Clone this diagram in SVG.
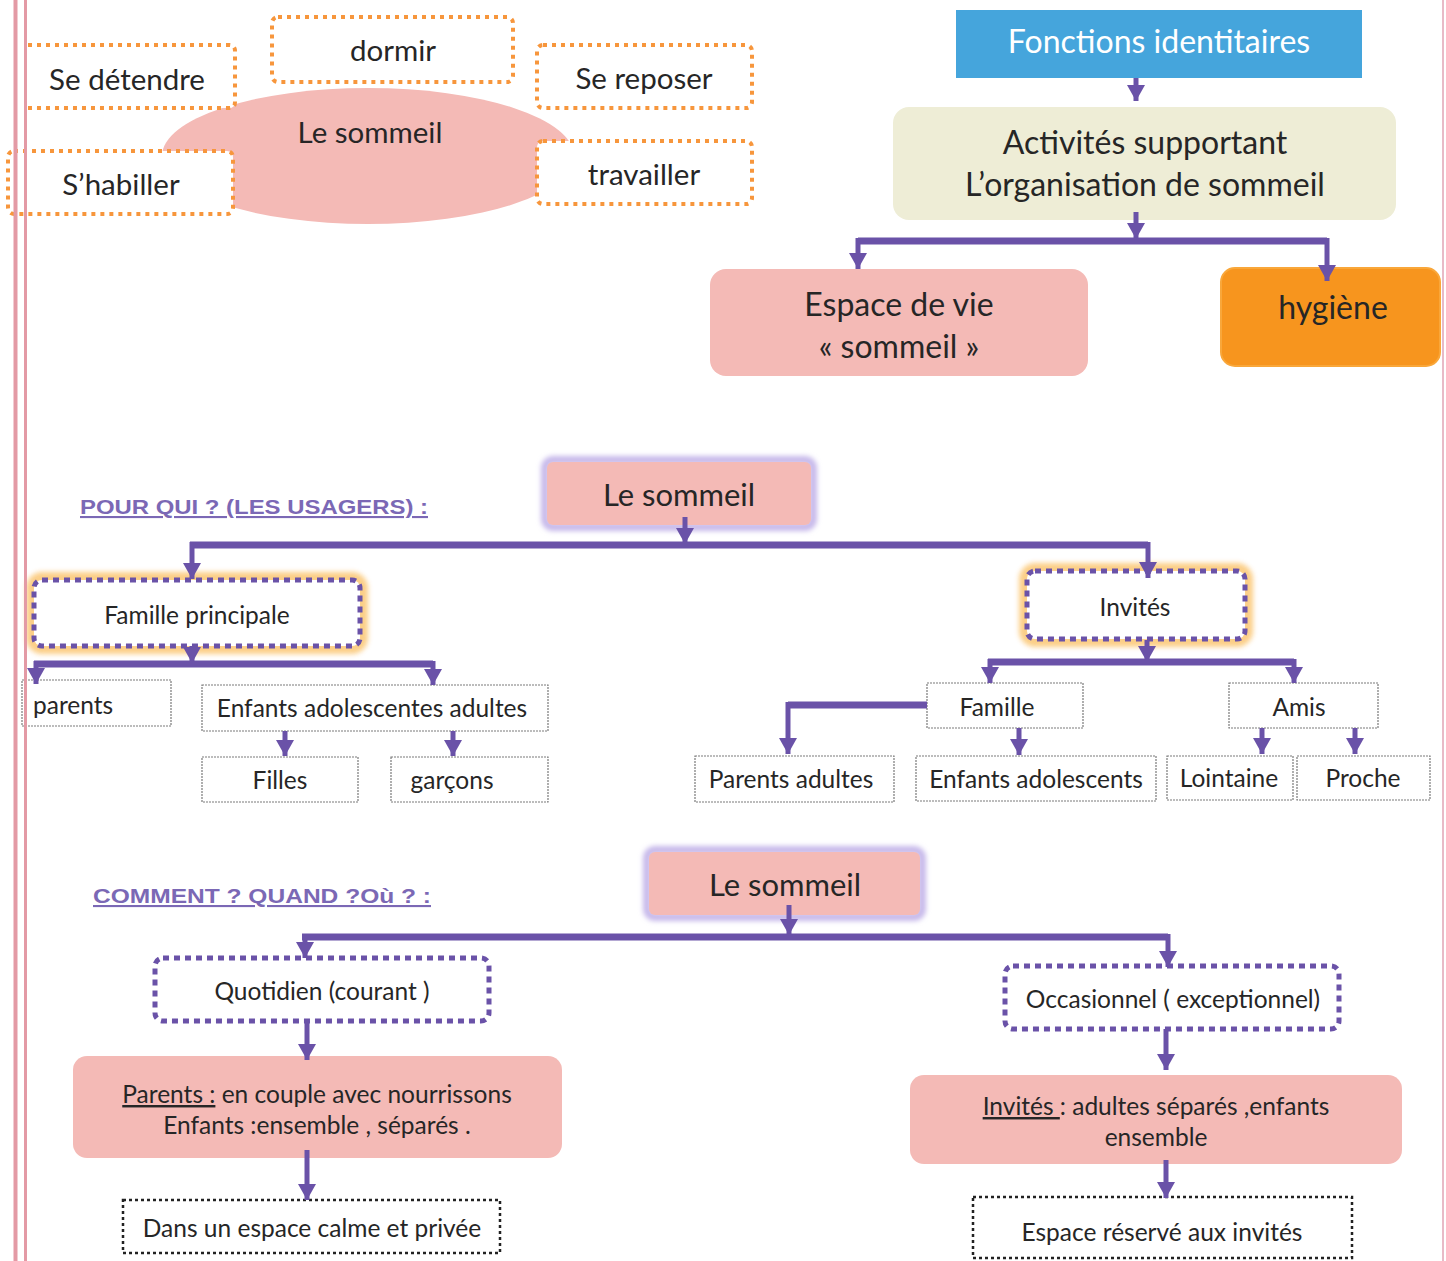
<svg xmlns="http://www.w3.org/2000/svg" width="1446" height="1261" viewBox="0 0 1446 1261">
<style>
  text { font-family: Lato, "Open Sans", "Liberation Sans", sans-serif; fill: #262626; text-anchor: middle; }
  .t27 { font-size: 29.5px; }
  .t30 { font-size: 32px; }
  .t22 { font-size: 24.5px; }
  .title { font-family: "Liberation Sans", Arial, sans-serif; font-weight: bold; font-size: 21px; fill: #7b68b5; text-anchor: start; text-decoration: underline; }
  .orange { fill: #ffffff; stroke: #f7963c; stroke-width: 4; stroke-dasharray: 4 5; }
  .purpdot { fill: #ffffff; stroke: #6a52a8; stroke-width: 5; stroke-dasharray: 6 5; }
  .glow { fill: none; stroke: #fbc97a; stroke-width: 12; opacity: 0.9; filter: url(#soft); }
  .grey { fill: #ffffff; stroke: #7a7a7a; stroke-width: 1.2; stroke-dasharray: 2 1; }
  .black { fill: #ffffff; stroke: #222; stroke-width: 2.5; stroke-dasharray: 3 3; }
  .pink { fill: #f4bab6; }
  .lav { fill: none; stroke: #c6b8ea; stroke-width: 8; filter: url(#soft); }
  .bar { fill: none; stroke: #6a52a8; stroke-width: 7; }
  .arr { fill: none; stroke: #6a52a8; stroke-width: 5; marker-end: url(#ah); }
</style>
<defs>
  <marker id="ah" viewBox="0 0 16 18" refX="16" refY="9" markerWidth="16" markerHeight="18" markerUnits="userSpaceOnUse" orient="auto">
    <path d="M0,0 L16,9 L0,18 z" fill="#6a52a8"/>
  </marker>
  <filter id="soft" x="-10%" y="-20%" width="120%" height="140%">
    <feGaussianBlur stdDeviation="2.5"/>
  </filter>
</defs>
<rect width="1446" height="1261" fill="#ffffff"/>

<!-- top-left mind map -->
<g id="ellipse-sommeil">
  <ellipse cx="368" cy="156" rx="206" ry="68" fill="#f4bab6"/>
  <text class="t27" x="370" y="143">Le sommeil</text>
</g>
<g id="se-detendre">
  <path class="orange" d="M28,45 H229 Q235,45 235,51 V102 Q235,108 229,108 H28"/>
  <text class="t27" x="127" y="90">Se détendre</text>
</g>
<g id="dormir">
  <rect class="orange" x="272" y="17" width="241" height="65" rx="6"/>
  <text class="t27" x="393" y="61">dormir</text>
</g>
<g id="se-reposer">
  <rect class="orange" x="537" y="45" width="215" height="63" rx="6"/>
  <text class="t27" x="644" y="89">Se reposer</text>
</g>
<g id="shabiller">
  <rect class="orange" x="8" y="151" width="225" height="63" rx="6"/>
  <text class="t27" x="121" y="195">S’habiller</text>
</g>
<g id="travailler">
  <rect class="orange" x="537" y="141" width="215" height="63" rx="6"/>
  <text class="t27" x="644" y="185">travailler</text>
</g>

<!-- top-right -->
<g id="fonctions">
  <rect x="956" y="10" width="406" height="68" fill="#45a5dc"/>
  <text x="1159" y="53" style="font-size:32px;fill:#ffffff">Fonctions identitaires</text>
</g>
<g id="activites">
  <rect x="893" y="107" width="503" height="113" rx="16" fill="#eeedd6"/>
  <text class="t30" x="1145" y="154">Activités supportant</text>
  <text class="t30" x="1145" y="196">L’organisation de sommeil</text>
</g>
<g id="espace-vie">
  <rect x="710" y="269" width="378" height="107" rx="16" fill="#f4bab6"/>
  <text class="t30" x="899" y="316">Espace de vie</text>
  <text class="t30" x="899" y="358">« sommeil »</text>
</g>
<g id="hygiene">
  <rect x="1221" y="268" width="219" height="98" rx="14" fill="#f7951e" stroke="#f9a73a" stroke-width="2"/>
  <text class="t30" x="1333" y="319">hygiène</text>
</g>

<!-- middle -->
<g id="title-pour-qui">
  <text class="title" x="80" y="514" textLength="348" lengthAdjust="spacingAndGlyphs">POUR QUI ? (LES USAGERS) :</text>
</g>
<g id="sommeil-2">
  <rect class="lav" x="545" y="460" width="268" height="67" rx="8"/>
  <rect class="pink" x="547" y="462" width="264" height="63" rx="6"/>
  <text x="679" y="506" style="font-size:31px">Le sommeil</text>
</g>
<g id="famille-principale">
  <rect class="glow" x="32" y="578" width="330" height="70" rx="10"/>
  <rect class="purpdot" x="34" y="580" width="326" height="66" rx="8"/>
  <text class="t22" x="197" y="624">Famille principale</text>
</g>
<g id="parents">
  <rect class="grey" x="22" y="680" width="149" height="46"/>
  <text class="t22" x="33" y="714" style="text-anchor:start">parents</text>
</g>
<g id="enfants-ado-adultes">
  <rect class="grey" x="202" y="685" width="346" height="46"/>
  <text class="t22" x="372" y="717">Enfants adolescentes adultes</text>
</g>
<g id="filles">
  <rect class="grey" x="202" y="757" width="156" height="45"/>
  <text class="t22" x="280" y="789">Filles</text>
</g>
<g id="garcons">
  <rect class="grey" x="391" y="757" width="157" height="45"/>
  <text class="t22" x="452" y="789">garçons</text>
</g>
<g id="invites">
  <rect class="glow" x="1025" y="569" width="222" height="72" rx="10"/>
  <rect class="purpdot" x="1027" y="571" width="218" height="68" rx="8"/>
  <text class="t22" x="1135" y="616">Invités</text>
</g>
<g id="famille">
  <rect class="grey" x="927" y="683" width="156" height="45"/>
  <text class="t22" x="997" y="716">Famille</text>
</g>
<g id="amis">
  <rect class="grey" x="1229" y="683" width="149" height="45"/>
  <text class="t22" x="1299" y="716">Amis</text>
</g>
<g id="parents-adultes">
  <rect class="grey" x="695" y="756" width="199" height="46"/>
  <text class="t22" x="791" y="788">Parents adultes</text>
</g>
<g id="enfants-adolescents">
  <rect class="grey" x="916" y="756" width="240" height="45"/>
  <text class="t22" x="1036" y="788">Enfants adolescents</text>
</g>
<g id="lointaine">
  <rect class="grey" x="1167" y="756" width="126" height="44"/>
  <text class="t22" x="1229" y="787">Lointaine</text>
</g>
<g id="proche">
  <rect class="grey" x="1297" y="756" width="133" height="44"/>
  <text class="t22" x="1363" y="787">Proche</text>
</g>

<!-- bottom -->
<g id="title-comment">
  <text class="title" x="93" y="903" textLength="338" lengthAdjust="spacingAndGlyphs">COMMENT ? QUAND  ?Où ? :</text>
</g>
<g id="sommeil-3">
  <rect class="lav" x="647" y="850" width="275" height="67" rx="8"/>
  <rect class="pink" x="649" y="852" width="271" height="63" rx="6"/>
  <text x="785" y="896" style="font-size:31px">Le sommeil</text>
</g>
<g id="quotidien">
  <rect class="purpdot" x="155" y="958" width="334" height="63" rx="8"/>
  <text class="t22" x="322" y="1000">Quotidien (courant )</text>
</g>
<g id="parents-couple">
  <rect class="pink" x="73" y="1056" width="489" height="102" rx="14"/>
  <text class="t22" x="317" y="1103"><tspan style="text-decoration:underline">Parents :</tspan> en couple avec nourrissons</text>
  <text class="t22" x="317" y="1134">Enfants :ensemble , séparés .</text>
</g>
<g id="espace-calme">
  <rect class="black" x="123" y="1200" width="377" height="53"/>
  <text class="t22" x="312" y="1237">Dans un espace calme et privée</text>
</g>
<g id="occasionnel">
  <rect class="purpdot" x="1005" y="966" width="334" height="63" rx="8"/>
  <text class="t22" x="1173" y="1008">Occasionnel ( exceptionnel)</text>
</g>
<g id="invites-adultes">
  <rect class="pink" x="910" y="1075" width="492" height="89" rx="14"/>
  <text class="t22" x="1156" y="1115"><tspan style="text-decoration:underline">Invités </tspan>: adultes séparés ,enfants</text>
  <text class="t22" x="1156" y="1146">ensemble</text>
</g>
<g id="espace-reserve">
  <rect class="black" x="973" y="1197" width="379" height="61"/>
  <text class="t22" x="1162" y="1241">Espace réservé aux invités</text>
</g>

<!-- connectors -->
<g id="connectors">
  <path class="arr" d="M1136,78 V101"/>
  <path class="arr" d="M1136,212 V239"/>
  <path class="bar" d="M858,241 H1327"/>
  <path class="arr" d="M858,238 V269"/>
  <path class="arr" d="M1327,238 V281"/>

  <path class="arr" d="M685,517 V544"/>
  <path class="bar" d="M190,545 H1148"/>
  <path class="arr" d="M192,542 V579"/>
  <path class="arr" d="M1148,542 V578"/>

  <path class="arr" d="M192,646 V663"/>
  <path class="bar" d="M34,664 H433"/>
  <path class="arr" d="M36,661 V684"/>
  <path class="arr" d="M433,661 V685"/>
  <path class="arr" d="M285,731 V756"/>
  <path class="arr" d="M453,731 V756"/>

  <path class="arr" d="M1147,640 V662"/>
  <path class="bar" d="M988,662 H1294"/>
  <path class="arr" d="M990,659 V683"/>
  <path class="arr" d="M1294,659 V683"/>
  <path class="bar" d="M927,705 H788"/>
  <path class="arr" d="M788,702 V754"/>
  <path class="arr" d="M1019,728 V755"/>
  <path class="arr" d="M1262,728 V754"/>
  <path class="arr" d="M1355,728 V754"/>

  <path class="arr" d="M789,905 V935"/>
  <path class="bar" d="M302,937 H1168"/>
  <path class="arr" d="M305,934 V958"/>
  <path class="arr" d="M1168,934 V967"/>
  <path class="arr" d="M307,1021 V1060"/>
  <path class="arr" d="M307,1150 V1200"/>
  <path class="arr" d="M1166,1029 V1070"/>
  <path class="arr" d="M1166,1160 V1198"/>
</g>

<!-- page borders -->
<g id="borders">
  <line x1="15.5" y1="0" x2="15.5" y2="1261" stroke="#e39aa5" stroke-width="4"/>
  <line x1="25.5" y1="0" x2="25.5" y2="1261" stroke="#e39aa5" stroke-width="3"/>
  <line x1="1443" y1="0" x2="1443" y2="1261" stroke="#e0a3b4" stroke-width="1.5"/>
</g>
</svg>
